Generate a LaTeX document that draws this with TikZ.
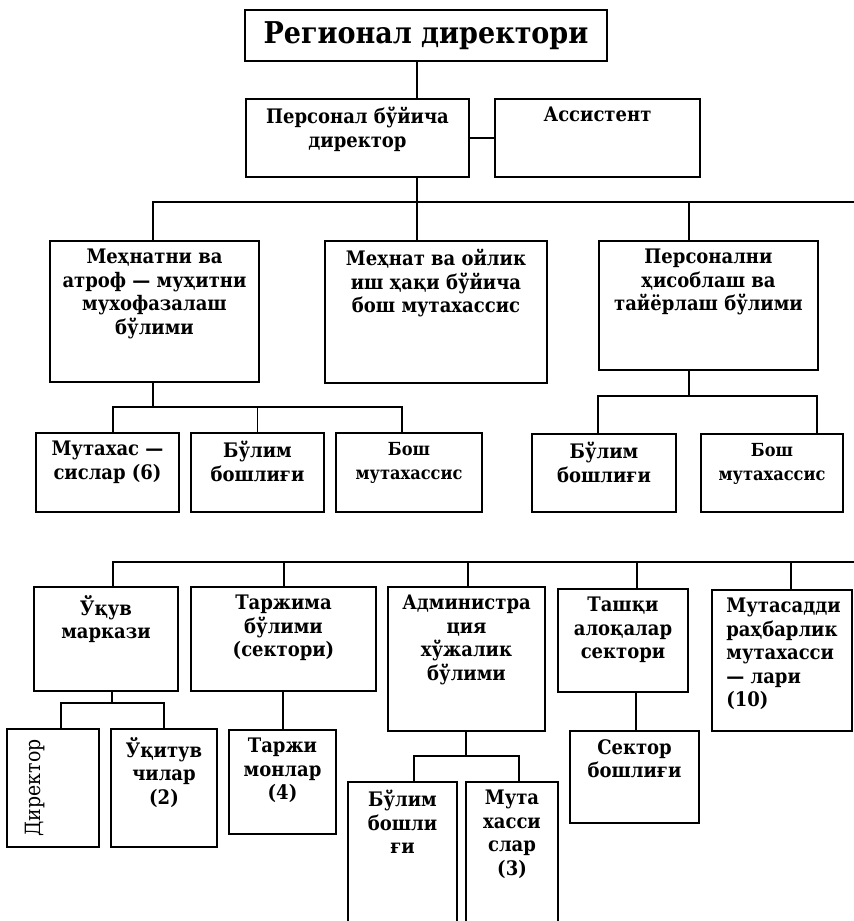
\documentclass[tikz,border=0pt]{standalone}
\usepackage{fontspec}
\setmainfont{DejaVu Serif Condensed}
\usetikzlibrary{positioning}
\tikzset{
	unit/.style={draw, line width=1.6pt, inner sep=0pt},
	unittext/.style={font=\bfseries\fontsize{20}{23.5}\selectfont, align=center, inner sep=0pt},
	smalltext/.style={unittext, font=\bfseries\fontsize{18}{23.5}\selectfont},
	titletext/.style={unittext, font=\bfseries\fontsize{30}{33}\selectfont},
	link/.style={line width=1.4pt},
}

\begin{document}
\begin{tikzpicture}[x=1pt, y=-1pt]
	\useasboundingbox (0,0) rectangle (854,921);

	% top level
	\node[unit, minimum width=362pt, minimum height=51pt] (top) at (426,35.5) {};
	\node[titletext] (top-t) at (top.center) {Регионал директори};
	\node[unit, minimum width=223pt, minimum height=78pt] (pd) at (357.5,138) {};
	\node[unittext, below=9pt of pd.north] (pd-t) {Персонал бўйича\\директор};
	\node[unit, minimum width=205pt, minimum height=78pt] (asst) at (597.5,138) {};
	\node[unittext, below=9pt of asst.north] (asst-t) {Ассистент};

	% second level
	\node[unit, minimum width=209pt, minimum height=141pt] (mp) at (154.5,311.5) {};
	\node[unittext, below=9pt of mp.north] (mp-t) {Меҳнатни ва\\атроф — муҳитни\\мухофазалаш\\бўлими};
	\node[unit, minimum width=222pt, minimum height=142pt] (mo) at (436,312) {};
	\node[unittext, below=9pt of mo.north] (mo-t) {Меҳнат ва ойлик\\иш ҳақи бўйича\\бош мутахассис};
	\node[unit, minimum width=219pt, minimum height=129pt] (ph) at (708.5,305.5) {};
	\node[unittext, below=9pt of ph.north] (ph-t) {Персонални\\ҳисоблаш ва\\тайёрлаш бўлими};

	% third level
	\node[unit, minimum width=143pt, minimum height=79pt] (mc1) at (107.5,472.5) {};
	\node[unittext, below=9pt of mc1.north] (mc1-t) {Мутахас —\\сислар (6)};
	\node[unit, minimum width=133pt, minimum height=79pt] (mc2) at (257.5,472.5) {};
	\node[unittext, below=9pt of mc2.north] (mc2-t) {Бўлим\\бошлиғи};
	\node[unit, minimum width=146pt, minimum height=79pt] (mc3) at (409,472.5) {};
	\node[smalltext, below=10pt of mc3.north] (mc3-t) {Бош\\мутахассис};
	\node[unit, minimum width=144pt, minimum height=78pt] (pc1) at (604,473) {};
	\node[unittext, below=9pt of pc1.north] (pc1-t) {Бўлим\\бошлиғи};
	\node[unit, minimum width=142pt, minimum height=78pt] (pc2) at (772,473) {};
	\node[smalltext, below=10pt of pc2.north] (pc2-t) {Бош\\мутахассис};

	% lower chart
	\node[unit, minimum width=144pt, minimum height=104pt] (u1) at (106,639) {};
	\node[unittext, below=9pt of u1.north] (u1-t) {Ўқув\\маркази};
	\node[unit, minimum width=185pt, minimum height=104pt] (u2) at (283.5,639) {};
	\node[unittext, below=9pt of u2.north] (u2-t) {Таржима\\бўлими\\(сектори)};
	\node[unit, minimum width=157pt, minimum height=144pt] (u3) at (466.5,659) {};
	\node[unittext, below=9pt of u3.north] (u3-t) {Администра\\ция\\хўжалик\\бўлими};
	\node[unit, minimum width=130pt, minimum height=103pt] (u4) at (623,640.5) {};
	\node[unittext, below=9pt of u4.north] (u4-t) {Ташқи\\алоқалар\\сектори};
	\node[unit, minimum width=140pt, minimum height=141pt] (u5) at (782,660.5) {};
	\node[unittext, align=left, below right=9pt and 15pt of u5.north west] (u5-t) {Мутасадди\\раҳбарлик\\мутахасси\\— лари\\(10)};

	\node[unit, minimum width=92pt, minimum height=118pt] (d1) at (53,788) {};
	\node[unittext, font=\fontsize{21}{23}\selectfont, rotate=90] (d1-t) at (35,788) {Директор};
	\node[unit, minimum width=106pt, minimum height=118pt] (d2) at (164,788) {};
	\node[unittext, below=9pt of d2.north] (d2-t) {Ўқитув\\чилар\\(2)};
	\node[unit, minimum width=107pt, minimum height=104pt] (t1) at (282.5,782) {};
	\node[unittext, below=9pt of t1.north] (t1-t) {Таржи\\монлар\\(4)};
	\node[unit, minimum width=109pt, minimum height=158pt] (a1) at (402.5,861) {};
	\node[unittext, below=9pt of a1.north] (a1-t) {Бўлим\\бошли\\ғи};
	\node[unit, minimum width=92pt, minimum height=158pt] (a2) at (512,861) {};
	\node[unittext, below=9pt of a2.north] (a2-t) {Мута\\хасси\\слар\\(3)};
	\node[unit, minimum width=129pt, minimum height=92pt] (s1) at (634.5,777) {};
	\node[unittext, below=9pt of s1.north] (s1-t) {Сектор\\бошлиғи};

	% bus junctions
	\coordinate (spine) at (417,202);
	\coordinate (busA) at (854,202);
	\coordinate (phx) at (689,202);
	\coordinate (mpx) at (153,407);
	\coordinate (mpl) at (113,407);
	\coordinate (mpr) at (402,407);
	\coordinate (phl) at (598,396);
	\coordinate (phr) at (817,396);
	\coordinate (busD) at (113,562);
	\coordinate (busDend) at (854,562);
	\coordinate (u1l) at (61,703);
	\coordinate (u1r) at (164,703);
	\coordinate (u3l) at (414,756);
	\coordinate (u3r) at (519,756);

	% connectors, upper chart
	\draw[link] (top.south -| spine) -- (pd.north -| spine);
	\draw[link] (pd.south -| spine) -- (mo.north -| spine);
	\draw[link] (pd.east) -- (asst.west);
	\draw[link] (mp.north -| mpx) |- (busA);
	\draw[link] (phx) -- (ph.north -| phx);
	\draw[link] (mp.south -| mpx) -- (mpx);
	\draw[link] (mc1.north -| mpl) -- (mpl) -- (mpr) -- (mc3.north -| mpr);
	\draw[link] (mc2.north) -- (mc2.north |- mpx);
	\draw[link] (ph.south -| phx) -- (phl -| phx);
	\draw[link] (pc1.north -| phl) -- (phl) -- (phr) -- (pc2.north -| phr);

	% connectors, lower chart
	\draw[link] (u1.north -| busD) -- (busD) -- (busDend);
	\foreach \n/\x in {u2/284,u3/468,u4/637,u5/791} {
		\draw[link] (\n.north -| \x,0) -- (\x,562);
	}
	\draw[link] (u1.south -| 112,0) -- (112,703);
	\draw[link] (d1.north -| u1l) -- (u1l) -- (u1r) -- (d2.north -| u1r);
	\draw[link] (u2.south -| 283,0) -- (t1.north -| 283,0);
	\draw[link] (u3.south -| 466,0) -- (466,756);
	\draw[link] (a1.north -| u3l) -- (u3l) -- (u3r) -- (a2.north -| u3r);
	\draw[link] (u4.south -| 636,0) -- (s1.north -| 636,0);
\end{tikzpicture}
\end{document}
